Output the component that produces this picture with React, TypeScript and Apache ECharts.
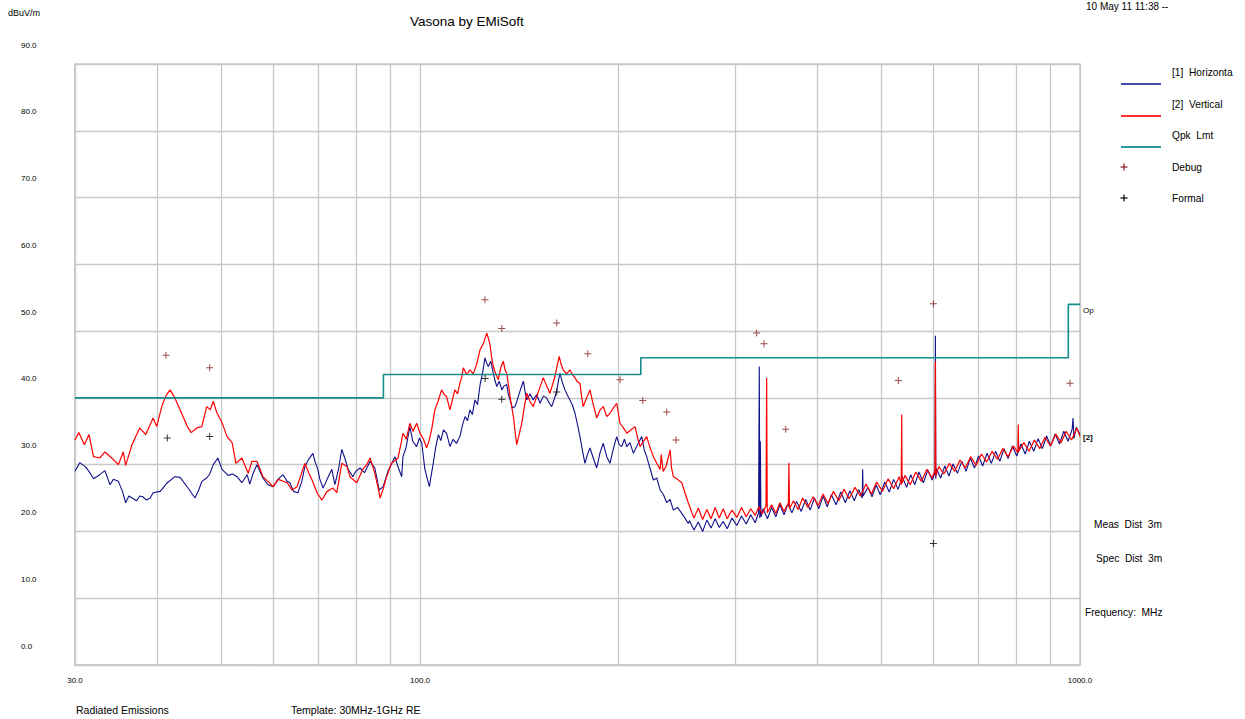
import React, { useEffect, useRef } from "react";
import * as echarts from "echarts";

const FONT = "'Liberation Sans', Arial, sans-serif";

const xLabelValues = [30, 100, 1000];
const xGridValues = [30, 40, 50, 60, 70, 80, 90, 100, 200, 300, 400, 500, 600, 700, 800, 900, 1000];

// [1] Horizontal  [MHz, dBuV/m]
const horizontal: [number, number][] = [
  [30.0, 29.0], [30.5, 30.3], [31.1, 29.7], [31.5, 29.0], [32.0, 27.9], [32.7, 28.5], [33.3, 29.1], [33.9, 27.0], [34.3, 27.8], [34.9, 27.5],
  [35.4, 26.0], [35.8, 24.3], [36.2, 25.3], [36.6, 25.0], [37.2, 24.6], [37.6, 25.3], [38.0, 25.2], [38.5, 24.7], [39.0, 25.0], [39.4, 25.8],
  [40.4, 26.0], [41.4, 27.3], [42.5, 28.2], [43.3, 28.1], [44.5, 26.5], [45.6, 25.0], [46.2, 26.2], [46.7, 27.5], [47.5, 28.0], [48.0, 28.6],
  [48.6, 30.0], [49.4, 31.0], [50.1, 29.3], [51.2, 28.4], [52.0, 28.6], [52.8, 28.2], [53.7, 27.3], [54.7, 28.5], [55.2, 27.1], [55.9, 28.8],
  [56.6, 30.0], [57.8, 28.0], [58.8, 27.0], [59.9, 26.7], [60.9, 27.8], [62.0, 28.5], [62.9, 27.5], [63.5, 27.3], [64.3, 26.0], [65.3, 25.8],
  [66.2, 27.5], [66.9, 29.7], [67.8, 30.8], [68.8, 31.7], [69.3, 30.5], [70.0, 29.3], [70.5, 27.8], [71.3, 26.5], [72.3, 27.8], [73.5, 29.3],
  [74.3, 27.0], [75.3, 29.5], [76.1, 32.3], [76.9, 31.0], [77.8, 29.3], [79.1, 28.2], [79.9, 29.0], [81.1, 29.5], [82.4, 28.8], [84.0, 30.5],
  [85.4, 29.5], [86.2, 27.5], [86.7, 26.2], [87.9, 26.7], [89.4, 29.0], [90.4, 30.0], [91.6, 31.2], [92.5, 29.8], [93.8, 28.2], [94.2, 31.2],
  [95.2, 32.5], [96.5, 35.7], [97.5, 33.5], [98.8, 32.7], [99.8, 34.0], [100.6, 33.2], [101.7, 29.3], [102.5, 28.0], [103.3, 26.7], [104.0, 28.5],
  [104.7, 30.2], [105.6, 32.6], [106.6, 34.5], [107.5, 33.6], [108.5, 35.2], [109.7, 34.7], [111.0, 32.7], [112.2, 33.8], [113.6, 33.2], [114.9, 34.2],
  [116.0, 36.0], [117.0, 37.2], [118.0, 36.6], [119.0, 38.2], [120.0, 37.5], [121.1, 39.7], [122.2, 39.0], [123.3, 42.0], [124.4, 43.8], [125.4, 46.0],
  [126.2, 45.2], [126.9, 44.7], [128.0, 45.5], [129.1, 43.7], [129.9, 42.6], [130.7, 41.7], [131.8, 42.5], [133.0, 41.2], [134.1, 41.8], [135.3, 42.0],
  [136.0, 40.6], [136.9, 39.7], [138.0, 38.5], [139.3, 38.7], [140.9, 40.2], [142.0, 41.3], [143.4, 42.5], [144.2, 41.0], [145.1, 39.7], [146.7, 40.6],
  [148.4, 39.7], [150.2, 40.5], [152.0, 39.2], [153.8, 40.3], [155.5, 40.0], [157.0, 39.2], [158.3, 38.7], [159.7, 39.8], [161.1, 41.0], [162.0, 42.5],
  [162.9, 43.7], [164.3, 42.3], [165.8, 41.2], [167.2, 40.4], [168.7, 39.7], [170.2, 38.9], [171.7, 37.7], [173.2, 36.0], [174.7, 34.2], [176.3, 32.0],
  [177.8, 30.2], [179.3, 31.5], [180.9, 32.5], [183.0, 31.0], [185.2, 29.5], [187.4, 31.8], [189.5, 33.2], [191.8, 31.2], [194.0, 30.2], [196.3, 32.4],
  [198.6, 34.2], [200.3, 33.0], [202.1, 32.7], [204.0, 33.8], [205.7, 32.7], [208.0, 33.3], [210.5, 31.7], [213.6, 33.0], [216.7, 34.2], [218.6, 32.2],
  [220.5, 31.2], [223.0, 29.5], [225.7, 27.7], [228.4, 28.0], [231.1, 26.2], [233.8, 25.5], [236.5, 24.3], [239.2, 24.8], [242.0, 23.2], [245.6, 23.6],
  [249.2, 22.7], [252.0, 22.0], [254.9, 21.2],
  [256, 21.6], [260, 20.2], [264, 21.4], [268, 20.0], [272, 21.7], [276, 20.5], [280, 21.9], [284, 20.6], [288, 21.5], [292, 20.4],
  [297, 22.0], [302, 20.9], [307, 22.3], [312, 21.1], [317, 22.5], [322, 21.3], [325.8, 22.8], [326.6, 44.7], [327.2, 22.0], [327.8, 33.5],
  [328.5, 22.2], [331, 23.4], [336, 21.9], [341, 23.6], [346, 22.2], [351, 24.0], [356, 22.5], [361, 24.1], [366, 22.8], [372, 24.5],
  [378, 23.0], [384, 24.8], [390, 23.2], [396, 25.0], [402, 23.4], [408, 25.3], [414, 23.7], [420, 25.5], [427, 24.0], [434, 25.9],
  [441, 24.3], [448, 26.1], [455, 24.6], [462, 26.3], [467.8, 25.0], [468.5, 29.3], [469.2, 25.3], [477, 26.6], [484, 25.2], [491, 27.0],
  [498, 25.5], [506, 27.4], [514, 25.9], [522, 27.8], [530, 26.3], [538, 28.2], [546, 26.6], [554, 28.5], [562, 27.0], [570, 28.9],
  [579, 27.3], [588, 29.2], [597, 27.7], [603.0, 28.8], [603.8, 49.3], [604.6, 27.9], [606, 29.4], [615, 28.0], [624, 29.8], [633, 28.3],
  [642, 30.1], [652, 28.7], [662, 30.5], [672, 29.0], [682, 31.0], [692, 29.5], [702, 31.3], [712, 29.8], [723, 31.7], [734, 30.2],
  [745, 32.0], [756, 30.5], [767, 32.4], [778, 30.9], [790, 32.8], [802, 31.3], [814, 33.1], [826, 31.6], [838, 33.5], [851, 32.0],
  [864, 33.9], [877, 32.4], [890, 34.3], [903, 32.8], [917, 34.6], [931, 33.1], [945, 35.0], [959, 33.5], [973, 35.3], [976, 37.0],
  [979, 33.9], [987, 35.6], [1000, 34.5],
];

// [2] Vertical  [MHz, dBuV/m]
const vertical: [number, number][] = [
  [30.0, 33.7], [30.4, 34.8], [31.0, 33.0], [31.5, 34.5], [32.0, 31.2], [32.7, 31.0], [33.3, 31.9], [34.1, 31.0], [34.9, 30.0], [35.5, 31.9],
  [35.8, 29.9], [36.6, 33.0], [37.6, 35.5], [38.4, 34.5], [39.4, 37.0], [39.9, 35.7], [40.6, 38.7], [41.2, 40.3], [41.8, 41.2], [42.5, 40.0],
  [43.3, 38.2], [44.4, 35.7], [45.0, 34.8], [45.9, 35.5], [46.7, 35.7], [47.5, 38.7], [48.1, 38.2], [48.6, 39.5], [49.2, 37.8], [50.1, 36.3],
  [51.0, 34.2], [51.9, 33.3], [52.6, 30.2], [53.7, 31.0], [54.9, 28.7], [55.6, 30.5], [56.6, 30.5], [57.8, 28.2], [58.8, 27.5], [59.9, 26.7],
  [61.0, 27.8], [62.9, 27.3], [64.0, 26.2], [65.1, 26.7], [66.9, 30.2], [67.8, 28.8], [68.6, 27.7], [69.8, 25.8], [71.0, 24.7], [72.3, 26.0],
  [73.8, 26.5], [74.8, 25.8], [76.1, 30.2], [77.5, 29.7], [78.3, 28.2], [80.2, 27.3], [81.9, 29.3], [83.0, 30.0], [84.0, 31.0], [85.4, 28.7],
  [86.4, 26.5], [87.0, 25.0], [88.0, 26.5], [89.0, 28.2], [90.5, 30.2], [92.6, 31.0], [93.5, 33.0], [94.2, 34.7], [95.3, 33.8], [96.5, 36.2],
  [97.6, 35.0], [98.8, 36.2], [100.0, 34.7], [101.2, 33.8], [102.3, 32.5], [103.2, 33.6], [104.1, 35.2], [105.3, 38.2], [106.5, 39.5], [107.8, 41.2],
  [108.8, 40.5], [109.7, 40.2], [111.0, 38.2], [112.0, 39.8], [112.9, 41.2], [114.0, 40.6], [114.9, 42.2], [115.6, 43.0], [116.3, 44.5], [117.6, 43.5],
  [119.0, 44.2], [120.4, 43.6], [121.8, 45.0], [122.6, 46.2], [123.3, 47.2], [124.8, 48.2], [126.2, 49.7], [127.0, 48.8], [127.6, 48.0], [128.4, 46.0],
  [129.1, 44.7], [130.2, 43.6], [131.4, 42.7], [132.5, 44.5], [133.7, 45.5], [134.5, 44.2], [135.3, 43.7], [136.1, 42.0], [136.9, 40.2], [137.7, 38.6],
  [138.5, 37.2], [139.3, 35.0], [140.1, 33.0], [141.3, 34.5], [142.6, 36.2], [143.8, 38.5], [145.1, 40.7], [146.7, 39.5], [148.4, 38.7], [150.0, 40.0],
  [151.8, 41.5], [153.7, 43.0], [155.5, 41.8], [157.3, 40.7], [158.8, 42.0], [160.1, 43.2], [161.3, 44.8], [162.5, 46.2], [163.6, 45.0], [164.8, 44.2],
  [166.7, 43.6], [168.7, 44.2], [170.2, 43.5], [171.7, 43.0], [173.2, 42.4], [174.7, 42.2], [175.7, 40.2], [176.7, 38.7], [178.8, 40.0], [180.9, 41.2],
  [183.0, 39.0], [185.2, 37.0], [187.4, 38.2], [189.5, 38.7], [191.8, 37.2], [194.0, 37.7], [196.3, 38.5], [198.6, 39.2], [200.9, 36.2], [203.3, 35.5],
  [205.7, 34.7], [208.6, 35.2], [211.7, 35.7], [213.6, 34.0], [215.5, 32.7], [218.0, 33.5], [220.5, 34.2], [223.0, 32.6], [225.7, 31.2], [228.4, 30.2],
  [231.1, 29.3], [232.0, 31.5], [233.5, 29.0], [236.0, 29.8], [239.3, 32.2], [240.5, 29.5], [242.0, 28.2], [245.6, 27.8], [249.2, 27.3], [252.0, 25.8],
  [254.9, 24.3],
  [256, 23.8], [260, 22.0], [264, 23.5], [268, 21.8], [272, 23.3], [276, 21.9], [280, 23.6], [284, 22.0], [288, 23.4], [292, 21.9],
  [297, 23.2], [302, 22.1], [307, 23.6], [312, 22.2], [317, 23.4], [322, 22.4], [326, 23.7], [330, 22.6], [334.4, 23.9], [335.1, 43.0],
  [335.8, 22.8], [341, 24.0], [346, 22.7], [351, 24.3], [356, 23.0], [361.5, 24.2], [362.2, 30.3], [362.9, 23.4], [368, 24.6], [374, 23.3],
  [380, 25.0], [387, 23.6], [394, 25.2], [401, 23.9], [408, 25.6], [415, 24.2], [423, 26.0], [431, 24.6], [439, 26.3], [447, 24.9],
  [456, 26.6], [465, 25.3], [474, 27.1], [483, 25.6], [492, 27.4], [502, 26.0], [512, 27.9], [522, 26.4], [532, 28.2], [536, 27.0],
  [536.8, 37.5], [537.6, 27.2], [543, 28.4], [553, 27.0], [564, 28.9], [575, 27.5], [586, 29.3], [597, 28.0], [603.0, 29.2], [603.8, 45.5],
  [604.6, 28.3], [611, 29.7], [622, 28.6], [634, 30.2], [646, 29.0], [658, 30.7], [670, 29.5], [683, 31.2], [696, 29.9], [709, 31.6],
  [722, 30.4], [736, 32.0], [750, 30.8], [764, 32.4], [778, 31.2], [793, 32.8], [805, 31.8], [806.2, 36.0], [807.5, 32.0], [822, 33.3],
  [837, 32.0], [853, 33.7], [869, 32.4], [885, 34.1], [902, 32.8], [919, 34.6], [936, 33.3], [953, 35.0], [971, 33.7], [989, 35.5],
  [1000, 34.2],
];

// Qpk Lmt
const qpkLimit: [number, number][] = [
  [30, 40], [88, 40], [88, 43.5], [216, 43.5], [216, 46], [960, 46], [960, 54], [1000, 54],
];

// Debug markers
const debugPoints: [number, number][] = [
  [41.2, 46.4], [48.0, 44.5], [125.4, 54.7], [133.0, 50.4], [161.1, 51.2], [179.5, 46.6], [200.9, 42.7], [217.5, 39.6],
  [236.5, 37.9], [244.3, 33.7], [323.6, 49.7], [332.0, 48.1], [358.1, 35.3], [530.5, 42.6], [599.6, 54.1], [965.6, 42.2],
];

// Formal markers
const formalPoints: [number, number][] = [
  [41.4, 34.0], [48.0, 34.2], [125.5, 42.9], [133.0, 39.8], [161.1, 40.9], [599.6, 18.2],
];

const PLUS = "path://M3 0H4V3H7V4H4V7H3V4H0V3H3Z";

function txt(x: number, y: number, text: string, size = 10.5, extra: any = {}) {
  return {
    type: "text",
    x,
    y,
    silent: true,
    style: { text, fontSize: size, fontFamily: FONT, fill: "#000", verticalAlign: "middle", align: "left", ...extra },
  };
}

function hline(x1: number, x2: number, y: number, color: string, w = 2) {
  return { type: "line", silent: true, shape: { x1, y1: y, x2, y2: y }, style: { stroke: color, lineWidth: w } };
}

function plus(cx: number, cy: number, color: string) {
  return {
    type: "group",
    children: [
      { type: "line", shape: { x1: cx - 3.5, y1: cy, x2: cx + 3.5, y2: cy }, style: { stroke: color, lineWidth: 1.2 } },
      { type: "line", shape: { x1: cx, y1: cy - 3.5, x2: cx, y2: cy + 3.5 }, style: { stroke: color, lineWidth: 1.2 } },
    ],
  };
}

export default function App() {
  const ref = useRef<HTMLDivElement>(null);
  useEffect(() => {
    if (!ref.current) return;
    const chart = echarts.init(ref.current, undefined, { renderer: "svg" });
    const grid = "#c8c8c8";
    chart.setOption({
      animation: false,
      backgroundColor: "#ffffff",
      grid: { left: 75, right: 165, top: 64, bottom: 54, show: true, borderColor: grid, borderWidth: 1.5, backgroundColor: "transparent" },
      xAxis: {
        type: "log",
        logBase: 10,
        min: 30,
        max: 1000,
        axisLine: { show: true, lineStyle: { color: grid, width: 1.5 } },
        axisTick: { show: false, customValues: xGridValues },
        splitLine: { show: true, lineStyle: { color: grid, width: 1.3 } },
        minorSplitLine: { show: false },
        axisLabel: {
          customValues: xLabelValues,
          formatter: (v: number) => Number(v).toFixed(1),
          fontSize: 8,
          fontFamily: FONT,
          color: "#000",
          margin: 11,
          showMinLabel: true,
          showMaxLabel: true,
        },
      },
      yAxis: {
        type: "value",
        min: 0,
        max: 90,
        interval: 10,
        axisLine: { show: true, lineStyle: { color: grid, width: 1.5 } },
        axisTick: { show: false },
        splitLine: { show: true, lineStyle: { color: grid, width: 1.3 } },
        axisLabel: {
          formatter: (v: number) => Number(v).toFixed(1),
          fontSize: 8,
          fontFamily: FONT,
          color: "#000",
          align: "left",
          verticalAlign: "bottom",
          padding: [0, 0, 15, 0],
          margin: 54,
          showMinLabel: true,
          showMaxLabel: true,
        },
      },
      series: [
        {
          name: "[1] Horizontal",
          type: "line",
          data: horizontal,
          symbol: "none",
          lineStyle: { color: "#10108a", width: 1.1 },
          z: 2,
        },
        {
          name: "[2] Vertical",
          type: "line",
          data: vertical,
          symbol: "none",
          lineStyle: { color: "#ff0000", width: 1.2 },
          z: 3,
        },
        {
          name: "Qpk Lmt",
          type: "line",
          data: qpkLimit,
          symbol: "none",
          lineStyle: { color: "#168c8c", width: 1.6 },
          z: 4,
        },
        {
          name: "Debug",
          type: "scatter",
          data: debugPoints,
          symbol: PLUS,
          symbolSize: 7,
          itemStyle: { color: "#8b1a1a" },
          z: 5,
        },
        {
          name: "Formal",
          type: "scatter",
          data: formalPoints,
          symbol: PLUS,
          symbolSize: 7,
          itemStyle: { color: "#000000" },
          z: 5,
        },
      ],
      graphic: [
        txt(8, 13, "dBuV/m", 9),
        txt(410, 21, "Vasona by EMiSoft", 13.5),
        txt(1086, 6, "10 May 11 11:38 --", 10),
        txt(1172, 72, "[1]  Horizonta", 10.2),
        hline(1121, 1161, 84, "#4b4baa"),
        txt(1172, 104, "[2]  Vertical", 10.2),
        hline(1121, 1161, 116, "#ff3030"),
        txt(1172, 135, "Qpk  Lmt", 10.2),
        hline(1121, 1161, 147, "#2a9a9a"),
        plus(1124, 167, "#8b1a1a"),
        txt(1172, 167, "Debug", 10.2),
        plus(1124, 198, "#000000"),
        txt(1172, 198, "Formal", 10.2),
        txt(1083, 310, "Op", 8),
        txt(1083, 437, "[2]", 8, { fontWeight: "bold" }),
        txt(1094, 524, "Meas  Dist  3m", 10.2),
        txt(1096, 558, "Spec  Dist  3m", 10.2),
        txt(1085, 612, "Frequency:  MHz", 10.2),
        txt(76, 710, "Radiated Emissions", 10.5),
        txt(291, 710, "Template: 30MHz-1GHz RE", 10.5),
      ],
    });
    return () => chart.dispose();
  }, []);
  return (
    <div
      ref={ref}
      style={{ position: "absolute", left: 0, top: 0, width: 1245, height: 719, background: "#fff" }}
    />
  );
}
